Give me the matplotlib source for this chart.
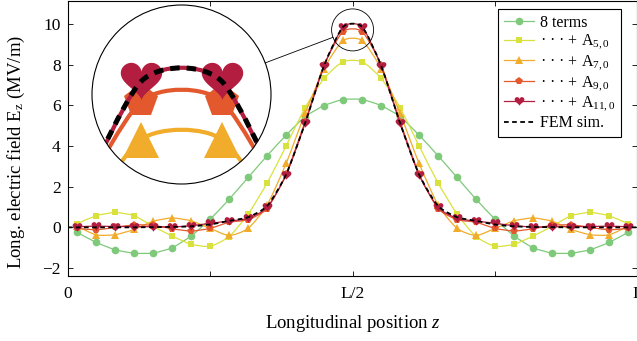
"""
Longitudinal field on axis: truncated series (8 terms ... A_11,0) vs FEM.
Values read off the reference figure, z in units of L.
"""

import matplotlib

matplotlib.use("Agg")
import matplotlib.pyplot as plt
import numpy as np
from matplotlib.lines import Line2D
from matplotlib.patches import Circle, Ellipse, PathPatch
from matplotlib.path import Path

plt.rcParams.update({
    "font.family": "serif",
    "font.serif": ["Liberation Serif", "DejaVu Serif"],
    "mathtext.fontset": "custom",
    "mathtext.rm": "Liberation Serif",
    "mathtext.it": "Liberation Serif:italic",
    "mathtext.bf": "Liberation Serif:bold",
})

# ---- data (E_z in MV/m) --------------------------------------------------
n_points = 30
z = (np.arange(n_points) + 0.5) / n_points          # sample grid, units of L

terms_8 = [-0.25, -0.74, -1.10, -1.27, -1.26, -1.00, -0.42, 0.40, 1.38, 2.45,
           3.52, 4.53, 5.44, 5.98, 6.28, 6.28, 5.98, 5.44, 4.53, 3.52,
           2.45, 1.38, 0.40, -0.42, -1.00, -1.26, -1.27, -1.10, -0.74, -0.25]
plus_a5 = [0.18, 0.57, 0.73, 0.57, 0.05, -0.43, -0.83, -0.93, -0.45, 0.65,
           2.18, 4.00, 5.88, 7.32, 8.14, 8.14, 7.32, 5.88, 4.00, 2.18,
           0.65, -0.45, -0.93, -0.83, -0.43, 0.05, 0.57, 0.73, 0.57, 0.18]
plus_a7 = [0.05, -0.37, -0.36, -0.10, 0.30, 0.46, 0.32, -0.05, -0.40, -0.05,
           1.10, 3.14, 5.60, 7.80, 9.18, 9.18, 7.80, 5.60, 3.14, 1.10,
           -0.05, -0.40, -0.05, 0.32, 0.46, 0.30, -0.10, -0.36, -0.37, 0.05]
plus_a9 = [-0.05, -0.12, 0.00, 0.12, 0.10, -0.07, -0.18, -0.05, 0.25, 0.38,
           0.92, 2.62, 5.20, 7.98, 9.62, 9.62, 7.98, 5.20, 2.62, 0.92,
           0.38, 0.25, -0.05, -0.18, -0.07, 0.10, 0.12, 0.00, -0.12, -0.05]
plus_a11 = [0.03, 0.06, 0.04, 0.04, 0.03, 0.02, 0.08, 0.20, 0.31, 0.44,
            0.98, 2.57, 5.11, 7.93, 9.85, 9.85, 7.93, 5.11, 2.57, 0.98,
            0.44, 0.31, 0.20, 0.08, 0.02, 0.03, 0.04, 0.04, 0.06, 0.03]

fem_z = np.concatenate([[0.0], z, [1.0]])
fem = [0.00,
       0.00, 0.00, 0.00, 0.00, 0.01, 0.02, 0.05, 0.14, 0.32, 0.50,
       1.05, 2.60, 5.12, 7.95, 9.85, 9.85, 7.95, 5.12, 2.60, 1.05,
       0.50, 0.32, 0.14, 0.05, 0.02, 0.01, 0.00, 0.00, 0.00, 0.00,
       0.00]

dots = "\u00b7 \u00b7 \u00b7 + "
labels = ["8 terms", dots + r"A$_\mathrm{5,0}$", dots + r"A$_\mathrm{7,0}$",
          dots + r"A$_\mathrm{9,0}$", dots + r"A$_\mathrm{11,0}$", "FEM sim."]
colors = ["#7fc97b", "#d9e23c", "#f0ac2a", "#e3592d", "#b31d40"]

# heart marker (lobes up)
t = np.linspace(0, 2 * np.pi, 90)
HEART = Path(np.column_stack([16 * np.sin(t) ** 3,
                              13 * np.cos(t) - 5 * np.cos(2 * t) - 2 * np.cos(3 * t)
                              - np.cos(4 * t) + 2.5]), closed=True)
markers = ["o", "s", "^", "p", HEART]
msizes = [5.5, 5.0, 6.0, 6.0, 7.0]

series = [terms_8, plus_a5, plus_a7, plus_a9, plus_a11]


def smooth_path(x, y, s=0.22):
    """Cubic Bezier path through the points (cardinal spline, like TikZ 'smooth')."""
    p = np.column_stack([x, y]).astype(float)
    n = len(p)
    tang = np.zeros_like(p)
    for i in range(n):
        lo, hi = max(i - 1, 0), min(i + 1, n - 1)
        tang[i] = (p[hi] - p[lo]) / (p[hi, 0] - p[lo, 0])
    verts, codes = [p[0]], [Path.MOVETO]
    for i in range(n - 1):
        h = p[i + 1, 0] - p[i, 0]
        c1 = p[i] + tang[i] * h * s
        c2 = p[i + 1] - tang[i + 1] * h * s
        verts += [c1, c2, p[i + 1]]
        codes += [Path.CURVE4] * 3
    return Path(verts, codes)


def draw_all(axis, lw, fem_lw, fem_dash, ms_scale, clip=None):
    artists = []
    for k, vals in enumerate(series):
        line = PathPatch(smooth_path(z, vals), fill=False, edgecolor=colors[k],
                         lw=lw, zorder=2 + k * 0.1)
        axis.add_patch(line)
        (pts,) = axis.plot(z, vals, ls="none", marker=markers[k], ms=msizes[k] * ms_scale,
                           color=colors[k], mec=colors[k], mew=0, zorder=2.05 + k * 0.1)
        artists += [line, pts]
    fem_line = PathPatch(smooth_path(fem_z, fem), fill=False, edgecolor="black",
                         lw=fem_lw, linestyle=(0, fem_dash), zorder=3)
    axis.add_patch(fem_line)
    artists.append(fem_line)
    if clip is not None:
        for a in artists:
            a.set_clip_path(clip)


# ---- main axes -----------------------------------------------------------
W, H = 637, 341
fig = plt.figure(figsize=(W / 100, H / 100), dpi=100)
ax_l, ax_r, ax_t, ax_b = 67.7, 637.5, 1.0, 276.0
ax = fig.add_axes([ax_l / W, (H - ax_b) / H, (ax_r - ax_l) / W, (ax_b - ax_t) / H])
ax.set_xlim(0, 1)
ax.set_ylim(-2.39, 11.12)

draw_all(ax, lw=0.9, fem_lw=1.3, fem_dash=(2.6, 1.9), ms_scale=1.0)

ax.set_xticks([0, 0.25, 0.5, 0.75, 1.0])
ax.set_xticklabels(["0", "", "L/2", "", "L"])
ax.set_yticks([-2, 0, 2, 4, 6, 8, 10])
ax.tick_params(direction="in", top=True, right=True, length=3.6, width=0.6,
               labelsize=12.5)
ax.tick_params(axis="x", pad=7)
ax.tick_params(axis="y", pad=5)
for s in ax.spines.values():
    s.set_linewidth(0.8)

ax.set_xlabel("Longitudinal position $z$", fontsize=13.5)
ax.xaxis.set_label_coords(0.5, (ax_b - 323) / (ax_b - ax_t))
ax.xaxis.label.set_va("center")
ax.set_ylabel(r"Long. electric field E$_\mathrm{z}$ (MV/m)", fontsize=13.5)
ax.yaxis.set_label_coords((16 - ax_l) / (ax_r - ax_l), (ax_b - 152) / (ax_b - ax_t))
ax.yaxis.label.set_va("center")

handles = [Line2D([], [], color=c, marker=m, ms=s, lw=0.9, mew=0)
           for c, m, s in zip(colors, markers, msizes)]
handles.append(Line2D([], [], color="black", lw=1.3, dashes=(2.6, 1.9)))
leg = ax.legend(handles, labels, loc="upper right",
                bbox_to_anchor=((621 - ax_l) / (ax_r - ax_l), (ax_b - 9) / (ax_b - ax_t)),
                borderaxespad=0, fontsize=11.5, handlelength=1.9, handletextpad=0.35,
                labelspacing=0.12, borderpad=0.35, fancybox=False, framealpha=1,
                edgecolor="black", numpoints=1)
leg.get_frame().set_linewidth(0.8)

# ---- magnified peak (circular inset) ----------------------------------------
z_c, e_c = 0.5, 9.7
r_small = 21.0                       # px, small circle
R_big, cx, cy = 89.5, 181.5, 94.5    # px, inset circle (from top-left)
mag = R_big / r_small
dz = r_small / (ax_r - ax_l)
de = r_small / ((ax_b - ax_t) / (11.12 + 2.39))

ax.add_patch(Ellipse((z_c, e_c), 2 * dz, 2 * de, fill=False, ec="black", lw=0.6, zorder=8))

axins = fig.add_axes([(cx - R_big) / W, (H - cy - R_big) / H, 2 * R_big / W, 2 * R_big / H])
axins.set_xlim(z_c - dz, z_c + dz)
axins.set_ylim(e_c - de, e_c + de)
axins.axis("off")
axins.add_patch(Circle((0.5, 0.5), 0.5, transform=axins.transAxes, fc="white",
                       ec="none", zorder=0))
clip = Circle((0.5, 0.5), 0.5, transform=axins.transAxes)
draw_all(axins, lw=3.0, fem_lw=3.6, fem_dash=(1.9, 1.4), ms_scale=mag, clip=clip)
axins.add_patch(Circle((0.5, 0.5), 0.5, transform=axins.transAxes, fill=False,
                       ec="black", lw=0.8, zorder=10, clip_on=False))

# connector between the two circles
p_big = np.array([cx, H - cy])
p_small = ax.transData.transform((z_c, e_c))
u = (p_small - p_big) / np.hypot(*(p_small - p_big))
a, b = p_big + R_big * u, p_small - r_small * u
fig.add_artist(Line2D([a[0] / W, b[0] / W], [a[1] / H, b[1] / H],
                      transform=fig.transFigure, color="black", lw=0.6))

fig.savefig("out.png", dpi=100)
